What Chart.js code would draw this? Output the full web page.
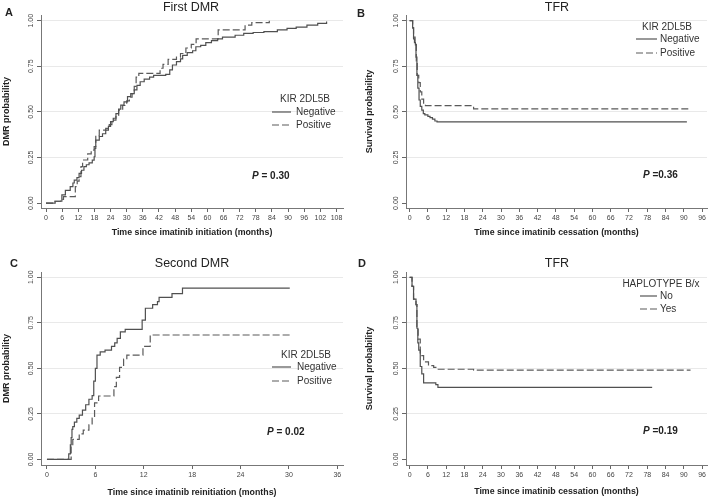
<!DOCTYPE html>
<html>
<head>
<meta charset="utf-8">
<script src="https://cdn.jsdelivr.net/npm/chart.js@4.4.1/dist/chart.umd.min.js"></script>
<style>
  body { margin: 0; background: #fff; font-family: "Liberation Sans", Arial, sans-serif; color: #222; }
  #page { position: relative; width: 709px; height: 498px; overflow: hidden; }
  canvas { position: absolute; }
  .txt { position: absolute; white-space: nowrap; line-height: 12px; }
  .mid { transform: translateX(-50%); }
  .title { font-size: 12.5px; line-height: 14px; }
  .letter { font-size: 11px; font-weight: bold; line-height: 14px; }
  .leg { font-size: 10px; color: #333; }
  .pval { font-size: 10px; font-weight: bold; }
  .key { position: absolute; }
</style>
</head>
<body>
<div id="page">
  <canvas id="chartA" width="354" height="248" style="left:0;top:0"></canvas>
  <canvas id="chartB" width="354" height="248" style="left:355px;top:0"></canvas>
  <canvas id="chartC" width="354" height="250" style="left:0;top:248px"></canvas>
  <canvas id="chartD" width="354" height="250" style="left:355px;top:248px"></canvas>

  <!-- panel A -->
  <div class="txt letter" style="left:5px;top:5px">A</div>
  <div class="txt title mid" style="left:191px;top:0">First DMR</div>
  <div class="txt leg mid" style="left:305px;top:93px">KIR 2DL5B</div>
  <svg class="key" style="left:272px;top:109px" width="19" height="6"><line x1="0" y1="3" x2="19" y2="3" stroke="#555" stroke-width="1.2"/></svg>
  <div class="txt leg" style="left:296px;top:106px">Negative</div>
  <svg class="key" style="left:272px;top:122px" width="19" height="6"><line x1="0" y1="3" x2="19" y2="3" stroke="#5a5a5a" stroke-width="1.2" stroke-dasharray="7 3"/></svg>
  <div class="txt leg" style="left:296px;top:119px">Positive</div>
  <div class="txt pval" style="left:252px;top:170px"><i>P</i> = 0.30</div>

  <!-- panel B -->
  <div class="txt letter" style="left:357px;top:6px">B</div>
  <div class="txt title mid" style="left:557px;top:0">TFR</div>
  <div class="txt leg mid" style="left:667px;top:21px">KIR 2DL5B</div>
  <svg class="key" style="left:636px;top:36px" width="21" height="6"><line x1="0" y1="3" x2="21" y2="3" stroke="#555" stroke-width="1.2"/></svg>
  <div class="txt leg" style="left:660px;top:33px">Negative</div>
  <svg class="key" style="left:636px;top:50px" width="21" height="6"><line x1="0" y1="3" x2="21" y2="3" stroke="#5a5a5a" stroke-width="1.2" stroke-dasharray="7 3"/></svg>
  <div class="txt leg" style="left:660px;top:47px">Positive</div>
  <div class="txt pval" style="left:643px;top:169px"><i>P</i> =0.36</div>

  <!-- panel C -->
  <div class="txt letter" style="left:10px;top:256px">C</div>
  <div class="txt title mid" style="left:192px;top:256px">Second DMR</div>
  <div class="txt leg mid" style="left:306px;top:349px">KIR 2DL5B</div>
  <svg class="key" style="left:272px;top:364px" width="19" height="6"><line x1="0" y1="3" x2="19" y2="3" stroke="#555" stroke-width="1.2"/></svg>
  <div class="txt leg" style="left:297px;top:361px">Negative</div>
  <svg class="key" style="left:272px;top:378px" width="19" height="6"><line x1="0" y1="3" x2="19" y2="3" stroke="#5a5a5a" stroke-width="1.2" stroke-dasharray="7 3"/></svg>
  <div class="txt leg" style="left:297px;top:375px">Positive</div>
  <div class="txt pval" style="left:267px;top:426px"><i>P</i> = 0.02</div>

  <!-- panel D -->
  <div class="txt letter" style="left:358px;top:256px">D</div>
  <div class="txt title mid" style="left:557px;top:256px">TFR</div>
  <div class="txt leg mid" style="left:661px;top:278px">HAPLOTYPE B/x</div>
  <svg class="key" style="left:640px;top:293px" width="17" height="6"><line x1="0" y1="3" x2="17" y2="3" stroke="#555" stroke-width="1.2"/></svg>
  <div class="txt leg" style="left:660px;top:290px">No</div>
  <svg class="key" style="left:640px;top:306px" width="17" height="6"><line x1="0" y1="3" x2="17" y2="3" stroke="#5a5a5a" stroke-width="1.2" stroke-dasharray="7 3"/></svg>
  <div class="txt leg" style="left:660px;top:303px">Yes</div>
  <div class="txt pval" style="left:643px;top:425px"><i>P</i> =0.19</div>
</div>

<script>
Chart.defaults.font.family = '"Liberation Sans", Arial, sans-serif';

// tick labels
const probTicks = [0, 0.25, 0.5, 0.75, 1];
const ticksA = [0, 6, 12, 18, 24, 30, 36, 42, 48, 54, 60, 66, 72, 78, 84, 90, 96, 102, 108];
const ticksTFR = [0, 6, 12, 18, 24, 30, 36, 42, 48, 54, 60, 66, 72, 78, 84, 90, 96];
const ticksC = [0, 6, 12, 18, 24, 30, 36];

// A - first DMR (cumulative probability), KIR 2DL5B
const firstNegTime = [0, 3.4, 5.9, 7.2, 9.0, 10.0, 10.5, 11.5, 12.3, 13.2, 14.1, 15.0, 16.0, 17.2, 17.9, 18.2, 18.5,
  19.8, 21.0, 22.2, 23.2, 24.0, 25.0, 26.0, 27.0, 27.8, 29.0, 30.3, 31.5, 32.8, 33.8, 35.0, 36.5, 38.5, 40.0, 44.5,
  46.0, 47.0, 48.5, 50.0, 50.8, 52.5, 54.5, 55.7, 57.5, 59.4, 61.5, 63.8, 65.6, 70.3, 73.5, 77.0, 81.0, 86.0, 89.6,
  93.0, 97.0, 101.0, 104.3];
const firstNegProb = [0, 0.01, 0.045, 0.07, 0.09, 0.11, 0.126, 0.14, 0.163, 0.18, 0.2, 0.21, 0.22, 0.235, 0.254, 0.3, 0.345,
  0.365, 0.38, 0.4, 0.42, 0.446, 0.465, 0.49, 0.515, 0.537, 0.555, 0.583, 0.6, 0.62, 0.645, 0.665, 0.68, 0.69, 0.7, 0.706,
  0.73, 0.757, 0.775, 0.79, 0.81, 0.825, 0.835, 0.857, 0.865, 0.88, 0.89, 0.9, 0.91, 0.92, 0.93, 0.935, 0.94, 0.95, 0.958,
  0.965, 0.976, 0.985, 0.995];
const firstPosTime = [0, 3.0, 5.4, 6.5, 10.9, 11.6, 12.3, 13.0, 13.6, 15.5, 16.8, 17.9, 18.5, 19.8, 22.2, 23.5, 24.5,
  26.0, 27.0, 28.5, 30.0, 31.0, 32.0, 32.8, 33.5, 34.5, 42.4, 43.5, 45.4, 48.5, 50.0, 52.0, 54.0, 55.8, 64.0, 74.0,
  76.5, 83.0];
const firstPosProb = [0, 0.01, 0.02, 0.035, 0.09, 0.12, 0.145, 0.2, 0.236, 0.27, 0.29, 0.31, 0.37, 0.4, 0.41, 0.43, 0.455,
  0.48, 0.51, 0.535, 0.56, 0.58, 0.6, 0.64, 0.69, 0.711, 0.739, 0.76, 0.788, 0.8, 0.82, 0.85, 0.87, 0.9, 0.95, 0.976,
  0.989, 1.0];

// B - TFR survival, KIR 2DL5B
const tfrNegTime = [0, 1.0, 1.3, 1.6, 1.9, 2.1, 2.4, 2.7, 3.1, 3.5, 4.0, 4.5, 5.0, 6.0, 6.7, 7.5, 8.3, 9.0, 91.0];
const tfrNegProb = [1, 0.96, 0.9, 0.88, 0.867, 0.8, 0.7, 0.63, 0.565, 0.53, 0.51, 0.49, 0.483, 0.475, 0.468, 0.46, 0.45, 0.445, 0.445];
const tfrPosTime = [0, 1.0, 1.3, 1.8, 2.2, 2.5, 3.0, 3.5, 4.0, 4.6, 5.2, 21.0, 92.0];
const tfrPosProb = [1, 0.96, 0.91, 0.87, 0.78, 0.7, 0.66, 0.61, 0.57, 0.545, 0.534, 0.516, 0.516];

// C - second DMR, KIR 2DL5B
const secondNegTime = [0, 2.7, 2.9, 3.0, 3.1, 3.2, 3.4, 3.7, 4.0, 4.4, 4.8, 5.2, 5.6, 5.8, 6.0, 6.2, 6.6, 7.2, 8.0, 8.4,
  8.7, 9.1, 9.7, 11.8, 12.2, 13.1, 13.7, 13.9, 15.5, 16.8, 30.1];
const secondNegProb = [0, 0.03, 0.08, 0.12, 0.165, 0.18, 0.205, 0.225, 0.243, 0.27, 0.3, 0.33, 0.35, 0.43, 0.5, 0.573, 0.59,
  0.6, 0.62, 0.64, 0.665, 0.7, 0.714, 0.765, 0.83, 0.85, 0.866, 0.89, 0.91, 0.94, 0.94];
const secondPosTime = [0, 3.0, 3.2, 4.0, 4.5, 5.2, 5.6, 5.9, 6.4, 8.3, 8.6, 9.0, 9.5, 9.9, 11.9, 12.8, 30.1];
const secondPosProb = [0, 0.07, 0.11, 0.14, 0.16, 0.19, 0.227, 0.31, 0.348, 0.4, 0.45, 0.505, 0.55, 0.573, 0.62, 0.683, 0.683];

// D - TFR survival, haplotype B/x
const haploNoTime = [0, 0.8, 1.3, 2.1, 2.4, 2.7, 3.0, 3.5, 4.0, 4.6, 8.6, 9.3, 79.6];
const haploNoProb = [1, 0.95, 0.88, 0.85, 0.72, 0.64, 0.6, 0.51, 0.47, 0.42, 0.41, 0.395, 0.395];
const haploYesTime = [0, 0.8, 1.3, 2.1, 2.4, 2.8, 3.5, 4.6, 6.2, 7.9, 9.0, 21.0, 92.2];
const haploYesProb = [1, 0.95, 0.88, 0.85, 0.73, 0.66, 0.57, 0.535, 0.515, 0.505, 0.495, 0.49, 0.49];

function pts(times, probs) {
  return times.map((t, i) => ({ x: t, y: probs[i] }));
}

function kmSet(times, probs, dashed) {
  return {
    data: pts(times, probs),
    stepped: 'before',
    borderColor: dashed ? '#5a5a5a' : '#505050',
    borderWidth: 1.2,
    borderDash: dashed ? [7, 3] : [],
    pointRadius: 0,
    fill: false
  };
}

function makeChart(id, p) {
  return new Chart(document.getElementById(id), {
    type: 'line',
    data: { datasets: p.sets },
    options: {
      responsive: false,
      animation: false,
      layout: { padding: { top: p.top, right: p.right, left: 0, bottom: 0 } },
      plugins: { legend: { display: false }, tooltip: { enabled: false } },
      scales: {
        x: {
          type: 'linear', min: p.xMin, max: p.xMax,
          afterBuildTicks: (ax) => { ax.ticks = p.xTicks.map(v => ({ value: v })); },
          afterFit: (ax) => { ax.height = p.xH; },
          grid: { drawOnChartArea: false, drawTicks: true, tickLength: 4, tickColor: '#666' },
          border: { color: '#777', width: 1 },
          ticks: { font: { size: 7 }, color: '#444', padding: 1.5, maxRotation: 0, minRotation: 0, autoSkip: false },
          title: { display: true, text: p.xTitle, color: '#222', font: { size: 8.8, weight: 'bold' },
            padding: { top: 0, bottom: p.xTitlePad } }
        },
        y: {
          type: 'linear', min: p.yMin, max: p.yMax,
          afterBuildTicks: (ax) => { ax.ticks = probTicks.map(v => ({ value: v })); },
          afterFit: (ax) => { ax.width = p.yW; },
          grid: {
            color: (ctx) => (ctx.tick && ctx.tick.value === 0) ? 'rgba(0,0,0,0)' : '#e9e9e9',
            tickColor: '#666', tickLength: 4
          },
          border: { color: '#777', width: 1 },
          ticks: { font: { size: 7 }, color: '#444', minRotation: 90, maxRotation: 90, crossAlign: 'center',
            padding: -1, callback: (v) => v.toFixed(2) },
          title: { display: true, text: p.yTitle, color: '#222', font: { size: 9, weight: 'bold' },
            padding: { top: p.yTitlePad, bottom: 0 } }
        }
      }
    }
  });
}

makeChart('chartA', {
  sets: [kmSet(firstNegTime, firstNegProb, false), kmSet(firstPosTime, firstPosProb, true)],
  top: 15, right: 11, xH: 40, yW: 41,
  xMin: -1.86, xMax: 110.4, xTicks: ticksA, yMin: -0.027, yMax: 1.031,
  xTitle: 'Time since imatinib initiation (months)', xTitlePad: 10,
  yTitle: 'DMR probability', yTitlePad: 1.5
});

makeChart('chartB', {
  sets: [kmSet(tfrNegTime, tfrNegProb, false), kmSet(tfrPosTime, tfrPosProb, true)],
  top: 15, right: 2, xH: 40, yW: 51,
  xMin: -1.18, xMax: 97.6, xTicks: ticksTFR, yMin: -0.027, yMax: 1.031,
  xTitle: 'Time since imatinib cessation (months)', xTitlePad: 10,
  yTitle: 'Survival probability', yTitlePad: 9.5
});

makeChart('chartC', {
  sets: [kmSet(secondNegTime, secondNegProb, false), kmSet(secondPosTime, secondPosProb, true)],
  top: 24, right: 11, xH: 33, yW: 41,
  xMin: -0.74, xMax: 36.7, xTicks: ticksC, yMin: -0.031, yMax: 1.029,
  xTitle: 'Time since imatinib reinitiation (months)', xTitlePad: 0,
  yTitle: 'DMR probability', yTitlePad: 1.5
});

makeChart('chartD', {
  sets: [kmSet(haploNoTime, haploNoProb, false), kmSet(haploYesTime, haploYesProb, true)],
  top: 24, right: 2, xH: 33, yW: 51,
  xMin: -1.18, xMax: 97.6, xTicks: ticksTFR, yMin: -0.031, yMax: 1.029,
  xTitle: 'Time since imatinib cessation (months)', xTitlePad: 1,
  yTitle: 'Survival probability', yTitlePad: 9.5
});
</script>
</body>
</html>
